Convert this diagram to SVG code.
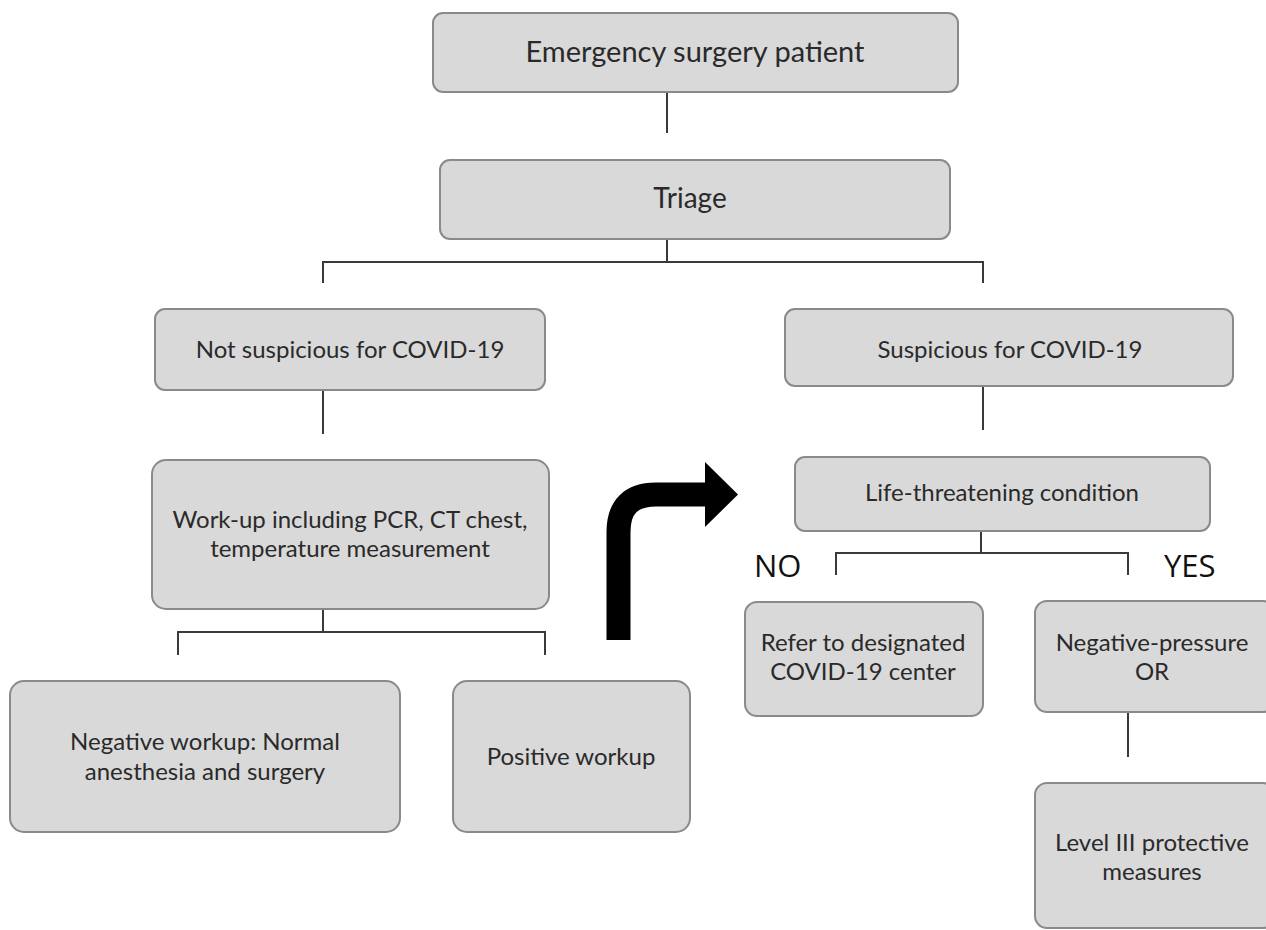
<svg xmlns="http://www.w3.org/2000/svg" width="1266" height="930" viewBox="0 0 1266 930">
<style>
.box{fill:#d9d9d9;stroke:#8a8a8a;stroke-width:2}
.t{font-family:Lato,"Open Sans",sans-serif;fill:#2a2a2a;text-anchor:middle;font-size:24px}
.c{stroke:#3a3a3a;stroke-width:2;fill:none}
.lbl{font-family:"Open Sans",Lato,sans-serif;fill:#111;font-size:31px}
</style>
<rect width="1266" height="930" fill="#fff"/>
<g id="connectors">
<path class="c" d="M667,92V133"/>
<path class="c" d="M667,239V262M323,283V262H983V283"/>
<path class="c" d="M323,390V434"/>
<path class="c" d="M983,386V430"/>
<path class="c" d="M323,609V632M178,655V632H545V655"/>
<path class="c" d="M981,531V553M836,575V553H1128V575"/>
<path class="c" d="M1128,712V757"/>
<path d="M618.5,640V532Q618.5,494.5 656,494.5H707" stroke="#000" stroke-width="24" fill="none"/>
<polygon points="705,462 738,494.5 705,527" fill="#000"/>
</g>
<g id="n1"><rect class="box" x="433" y="13" width="525" height="79" rx="10"/><text class="t" x="695" y="62" style="font-size:29px">Emergency surgery patient</text></g>
<g id="n2"><rect class="box" x="440" y="160" width="510" height="79" rx="10"/><text class="t" x="690" y="208" style="font-size:28px">Triage</text></g>
<g id="n3"><rect class="box" x="155" y="309" width="390" height="81" rx="10"/><text class="t" x="350" y="358">Not suspicious for COVID-19</text></g>
<g id="n4"><rect class="box" x="785" y="309" width="448" height="77" rx="10"/><text class="t" x="1010" y="358">Suspicious for COVID-19</text></g>
<g id="n5"><rect class="box" x="152" y="460" width="397" height="149" rx="14"/><text class="t" x="350" y="528">Work-up including PCR, CT chest,</text><text class="t" x="350" y="557">temperature measurement</text></g>
<g id="n6"><rect class="box" x="10" y="681" width="390" height="151" rx="14"/><text class="t" x="205" y="750">Negative workup: Normal</text><text class="t" x="205" y="780">anesthesia and surgery</text></g>
<g id="n7"><rect class="box" x="453" y="681" width="237" height="151" rx="14"/><text class="t" x="571" y="765">Positive workup</text></g>
<g id="n8"><rect class="box" x="795" y="457" width="415" height="74" rx="10"/><text class="t" x="1002" y="501">Life-threatening condition</text></g>
<text class="lbl" x="754" y="577">NO</text>
<text class="lbl" x="1164" y="577">YES</text>
<g id="n9"><rect class="box" x="745" y="602" width="238" height="114" rx="12"/><text class="t" x="863" y="651">Refer to designated</text><text class="t" x="863" y="680">COVID-19 center</text></g>
<g id="n10"><rect class="box" x="1035" y="601" width="240" height="111" rx="12"/><text class="t" x="1152" y="651">Negative-pressure</text><text class="t" x="1152" y="680">OR</text></g>
<g id="n11"><rect class="box" x="1035" y="783" width="240" height="145" rx="12"/><text class="t" x="1152" y="851">Level III protective</text><text class="t" x="1152" y="880">measures</text></g>
</svg>
